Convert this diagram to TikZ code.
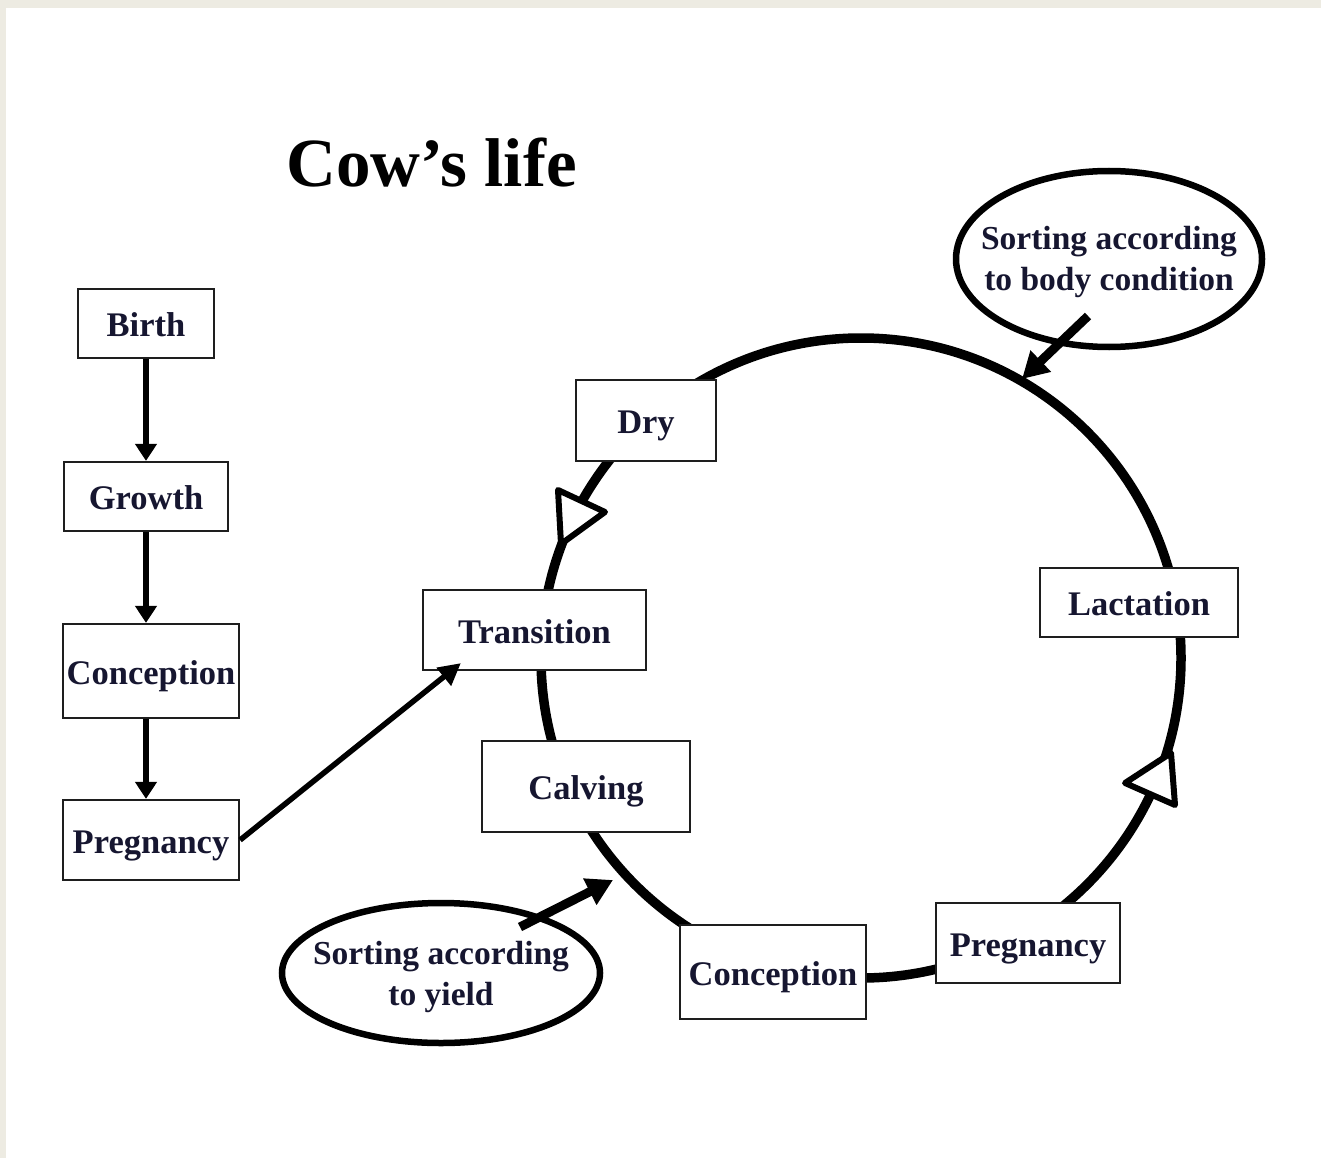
\documentclass[tikz,border=0pt]{standalone}
\usepackage{fontspec}
\setmainfont{Liberation Serif}
\usetikzlibrary{arrows.meta,shapes.geometric,calc}
\definecolor{pagegray}{RGB}{237,235,226}
\definecolor{txt}{RGB}{22,22,48}
\definecolor{edge}{RGB}{30,30,30}
\begin{document}
\begin{tikzpicture}[x=1pt,y=-1pt,
  stagebox/.style={draw=edge, line width=2.2pt, fill=white, inner sep=0pt, text=txt,
    text height=26pt, text depth=0pt,
    font=\bfseries\fontsize{34.5}{40}\selectfont},
  sortell/.style={ellipse, draw=black, line width=6.5pt, fill=white, inner sep=0pt},
  sorttext/.style={text=txt, align=center, inner sep=0pt,
    font=\bfseries\fontsize{33.5}{41}\selectfont},
  flow/.style={line width=6.5pt, -{Triangle[length=17pt,width=21pt]}},
  entry/.style={line width=5.5pt, -{Triangle[length=22pt,width=22pt]}},
  sortarrow/.style={line width=9pt, -{Triangle[length=26pt,width=28pt]}},
  cycleline/.style={line width=9.5pt},
  cyclehead/.style={line width=6pt, line join=round, fill=white}
]
% page
\fill[pagegray] (0,0) rectangle (1321,1158);
\fill[white] (6,8) rectangle (1321,1158);
\useasboundingbox (0,0) rectangle (1321,1158);

% title
\node[font=\bfseries\fontsize{69}{80}\selectfont, anchor=base, inner sep=0pt] (title) at (431.5,187) {Cow’s life};

% cycle
\draw[cycleline] (861,658) circle[radius=320];
\draw[cyclehead] (558,490) -- (605,512) -- (561,544) -- cycle;
\draw[cyclehead] (1125,783) -- (1171,753) -- (1175,805) -- cycle;

% left column
\node[stagebox, minimum width=136, minimum height=69] (birth) at (146,323.5) {Birth};
\node[stagebox, minimum width=164, minimum height=69] (growth) at (146,496.5) {Growth};
\node[stagebox, minimum width=176, minimum height=94] (concL) at (151,671) {Conception};
\node[stagebox, minimum width=176, minimum height=80] (pregL) at (151,840) {Pregnancy};

% cycle boxes
\node[stagebox, minimum width=140, minimum height=81] (dry) at (646,420.5) {Dry};
\node[stagebox, minimum width=223, minimum height=80] (trans) at (534.5,630) {Transition};
\node[stagebox, minimum width=208, minimum height=91] (calv) at (586,786.5) {Calving};
\node[stagebox, minimum width=198, minimum height=69] (lact) at (1139,602.5) {Lactation};
\node[stagebox, minimum width=186, minimum height=94] (concR) at (773,972) {Conception};
\node[stagebox, minimum width=184, minimum height=80] (pregR) at (1028,943) {Pregnancy};

% sorting ellipses
\node[sortell, minimum width=306, minimum height=176] (ellTop) at (1109,259) {};
\node[sorttext] (ellTopText) at (1109,262) {Sorting according\\to body condition};
\node[sortell, minimum width=318, minimum height=140] (ellBot) at (441,973) {};
\node[sorttext] (ellBotText) at (441,977) {Sorting according\\to yield};

% connectors
\draw[flow] (birth.south) -- (birth.south |- growth.north);
\draw[flow] (growth.south) -- (growth.south |- concL.north);
\draw[flow] (growth.south |- concL.south) -- (growth.south |- pregL.north);
\draw[entry] (pregL.east) -- ($(trans.south west)+(39,-8)$);

\coordinate (hitTop) at (1022,379);
\coordinate (hitBot) at (613,880);
\draw[sortarrow] ($(ellTop.center)+(-21,57)$) -- (hitTop);
\draw[sortarrow] ($(ellBot.center)+(79,-46)$) -- (hitBot);
\end{tikzpicture}
\end{document}
